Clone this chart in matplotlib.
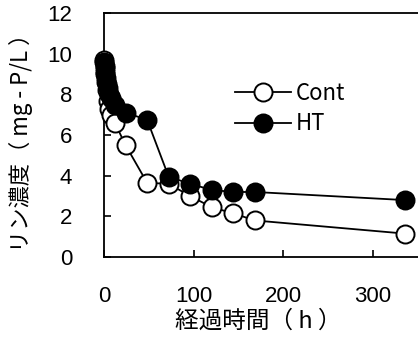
import matplotlib
matplotlib.use("Agg")
import matplotlib.pyplot as plt

plt.rcParams["font.family"] = ["Liberation Sans", "Noto Sans CJK JP"]
JP = ["Noto Sans CJK JP", "DejaVu Sans"]

# elapsed time (h)
hours = [0, 0.5, 1, 2, 3, 4, 6, 8, 12, 24, 48, 72, 96, 120, 144, 168, 336]
cont = [9.7, 9.3, 9.0, 8.6, 8.2, 7.7, 7.3, 7.0, 6.6, 5.5, 3.65, 3.6, 3.0, 2.45, 2.15, 1.8, 1.15]
ht = [9.6, 9.4, 9.1, 8.8, 8.5, 8.3, 8.0, 7.8, 7.5, 7.1, 6.75, 3.95, 3.6, 3.3, 3.2, 3.2, 2.8]
xticks = [0, 100, 200, 300]
yticks = [0, 2, 4, 6, 8, 10, 12]

fig = plt.figure(figsize=(4.18, 3.45), dpi=100)
ax = fig.add_axes([0.249, 0.255, 0.751, 0.707])

ax.plot(hours, cont, "-o", color="black", mfc="white", mec="black", ms=13, mew=1.4,
        lw=1.3, label="Cont", clip_on=False, zorder=3)
ax.plot(hours, ht, "-o", color="black", mfc="black", mec="black", ms=13, mew=1.4,
        lw=1.3, label="HT", clip_on=False, zorder=4)

ax.set_xlim(0, 350)
ax.set_ylim(0, 12)
ax.set_xticks(xticks)
ax.set_yticks(yticks)
ax.tick_params(direction="in", length=5, width=1.2, labelsize=16)
ax.tick_params(axis="x", pad=21)
ax.tick_params(axis="y", pad=23)
ax.spines["right"].set_visible(False)
for s in ["left", "bottom", "top"]:
    ax.spines[s].set_linewidth(1.3)

ax.set_xlabel("経過時間（ h ）", family=JP, fontsize=17)
ax.set_ylabel("リン濃度（ mg - P/L ）", family=JP, fontsize=16)
ax.xaxis.set_label_coords(0.49, -0.215)
ax.yaxis.set_label_coords(-0.225, 0.49)

ax.legend(loc="center left", bbox_to_anchor=(0.417, 0.609), frameon=False,
          borderpad=0, borderaxespad=0, handlelength=2.5, handletextpad=0.25,
          labelspacing=0.35, prop={"family": JP, "size": 16})

fig.savefig("out.png", dpi=100)
